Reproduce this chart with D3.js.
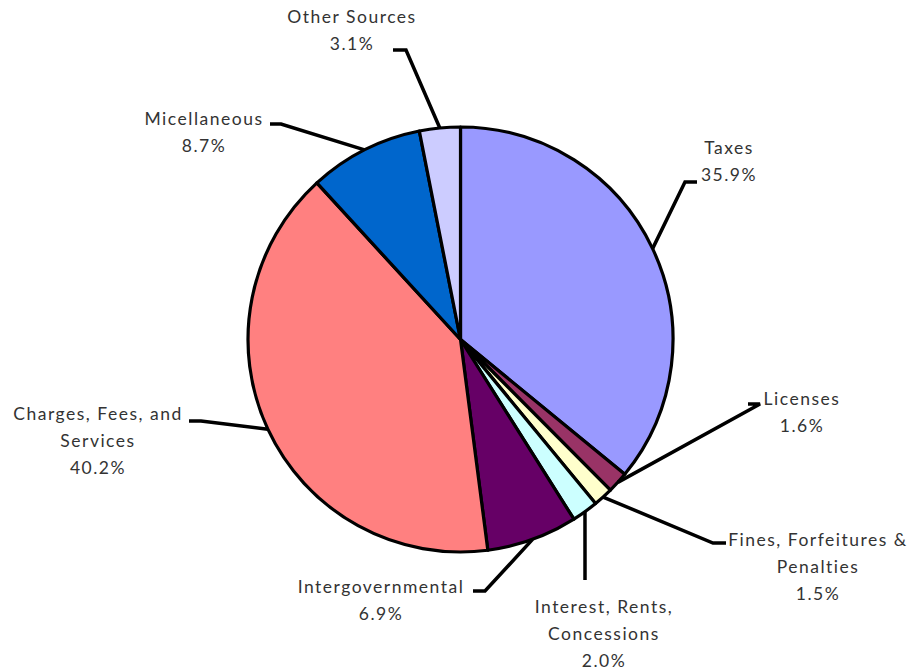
<!DOCTYPE html>
<html>
<head>
<meta charset="utf-8">
<script src="https://cdn.jsdelivr.net/npm/d3@7/dist/d3.min.js"></script>
<style>
  html, body { margin: 0; padding: 0; background: #fff; }
  svg { display: block; }
  text { font-family: "Lato", "Open Sans", sans-serif; font-size: 17.5px; letter-spacing: 1.5px; fill: #333; }
</style>
</head>
<body>
<svg id="chart" width="914" height="672"></svg>
<script>
// Revenue sources, in drawing order (clockwise from 12 o'clock)
const categories = [
  "Taxes", "Licenses", "Fines, Forfeitures & Penalties", "Interest, Rents, Concessions",
  "Intergovernmental", "Charges, Fees, and Services", "Micellaneous", "Other Sources"
];
const shares = [35.9, 1.6, 1.5, 2.0, 6.9, 40.2, 8.7, 3.1];
const sliceColors = ["#9999ff", "#993366", "#ffffcc", "#ccffff", "#660066", "#ff8080", "#0066cc", "#ccccff"];

// Label text lines (name lines, the percentage line is appended)
const labelLines = [
  ["Taxes"], ["Licenses"], ["Fines, Forfeitures &", "Penalties"], ["Interest, Rents,", "Concessions"],
  ["Intergovernmental"], ["Charges, Fees, and", "Services"], ["Micellaneous"], ["Other Sources"]
];

// Label placement: text centre x, first baseline y, and the leader elbow/end points
const labelLayout = [
  { x: 729, y: 154, elbow: [685, 182], end: [697, 182] },
  { x: 802, y: 405, elbow: [760, 404], end: [748, 404] },
  { x: 818, y: 546, elbow: [713, 543], end: [726, 543] },
  { x: 604, y: 613, elbow: [585, 560], end: [585, 580] },
  { x: 381, y: 593, elbow: [485, 591], end: [473, 591] },
  { x: 98,  y: 420, elbow: [201, 421], end: [189, 421] },
  { x: 204, y: 125, elbow: [281, 124], end: [270, 124] },
  { x: 352, y: 23,  elbow: [406, 50],  end: [393, 50] }
];

const cx = 460.5, cy = 339.5, radius = 212.5;
const svg = d3.select("#chart");
const g = svg.append("g").attr("transform", `translate(${cx},${cy})`);

const pie = d3.pie().sort(null).value(d => d)(shares);
const arc = d3.arc().innerRadius(0).outerRadius(radius);
const edge = d3.arc().innerRadius(radius).outerRadius(radius);

g.selectAll("path.slice")
  .data(pie)
  .join("path")
  .attr("class", "slice")
  .attr("d", arc)
  .attr("fill", (d, i) => sliceColors[i])
  .attr("stroke", "#000")
  .attr("stroke-width", 3.2)
  .attr("stroke-linejoin", "round");

// Leader lines from the slice edge to the label
svg.selectAll("polyline.leader")
  .data(pie)
  .join("polyline")
  .attr("class", "leader")
  .attr("fill", "none")
  .attr("stroke", "#000")
  .attr("stroke-width", 3.5)
  .attr("points", (d, i) => {
    const [ex, ey] = edge.centroid(d);
    const L = labelLayout[i];
    return [[cx + ex, cy + ey], L.elbow, L.end].map(p => p.join(",")).join(" ");
  });

// Labels
const lineH = 27;
svg.selectAll("text.label")
  .data(pie)
  .join("text")
  .attr("class", "label")
  .attr("text-anchor", "middle")
  .each(function (d, i) {
    const L = labelLayout[i];
    const lines = labelLines[i].concat([d3.format(".1f")(shares[i]) + "%"]);
    d3.select(this).selectAll("tspan")
      .data(lines)
      .join("tspan")
      .attr("x", L.x)
      .attr("y", (t, k) => L.y + k * lineH)
      .text(t => t);
  });
</script>
</body>
</html>
